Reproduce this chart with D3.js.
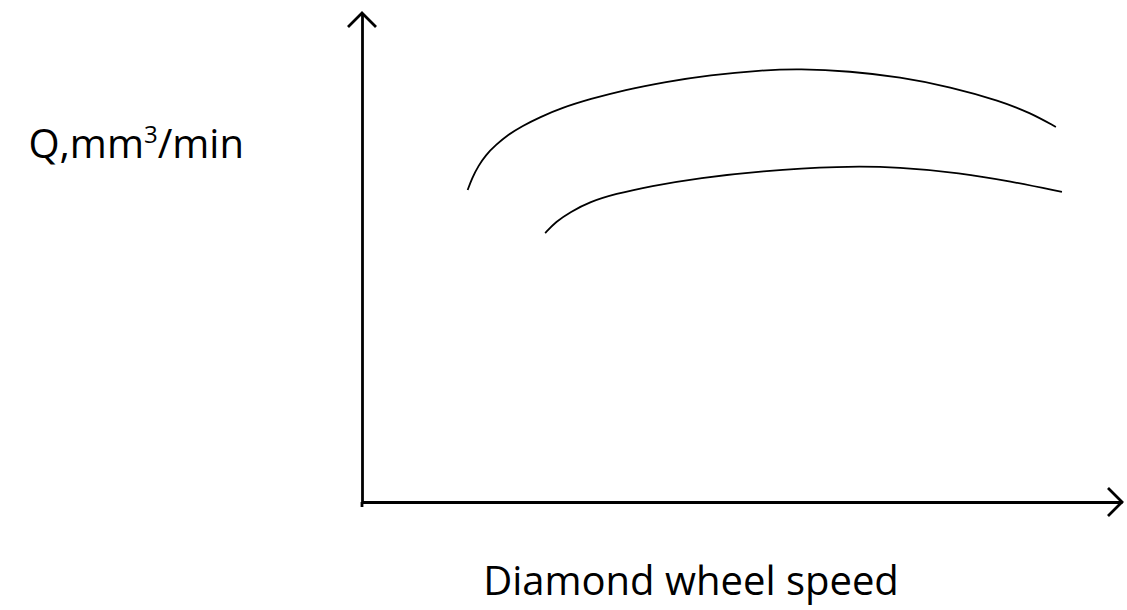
<!DOCTYPE html>
<html><head><meta charset="utf-8">
<script src="https://cdn.jsdelivr.net/npm/d3@7"></script>
<style>body{margin:0;background:#fff}svg{display:block}</style>
</head><body>
<svg id="c" width="1127" height="610"></svg>
<script>
// Data (arbitrary units)
const upperX = [13.9, 14.5, 15.3, 16.3, 17.6, 19.2, 21.1, 23.4, 26.3, 30.0, 34.6, 39.9, 45.8, 52.4, 57.6, 64.2, 70.8, 77.4, 84.0, 87.9, 91.3];
const upperY = [63.8, 66.3, 68.7, 71.0, 73.0, 75.1, 76.9, 78.7, 80.6, 82.4, 84.3, 85.9, 87.3, 88.3, 88.6, 88.1, 86.9, 84.9, 82.0, 79.6, 76.7];
const lowerX = [24.1, 25.5, 27.4, 30.0, 33.3, 37.9, 44.5, 52.4, 62.9, 70.8, 78.7, 85.3, 92.1];
const lowerY = [55.0, 57.3, 59.3, 61.4, 63.0, 64.6, 66.3, 67.7, 68.7, 68.5, 67.3, 65.6, 63.4];
const xLabel = "Diamond wheel speed";
const yLabel = ["Q,mm", "3", "/min"];

const svg = d3.select("#c");
const x = d3.scaleLinear().domain([0, 100]).range([362, 1122]);
const y = d3.scaleLinear().domain([0, 100]).range([502, 13]);

const font = "'Open Sans', 'Noto Sans', sans-serif";
const axisW = 2.8;

// axes (no ticks)
const gx = svg.append("g").attr("transform", `translate(0,${y(0)})`)
  .call(d3.axisBottom(x).ticks(0).tickSize(0).tickSizeOuter(0));
gx.select(".domain").attr("stroke", "#000").attr("stroke-width", axisW);
const gy = svg.append("g").attr("transform", `translate(${x(0)},0)`)
  .call(d3.axisLeft(y).ticks(0).tickSize(0).tickSizeOuter(0));
gy.select(".domain").attr("stroke", "#000").attr("stroke-width", axisW);
// y axis runs a little below the x axis
svg.append("line").attr("x1", x(0)).attr("x2", x(0)).attr("y1", y(0)).attr("y2", y(0) + 5)
  .attr("stroke", "#000").attr("stroke-width", axisW);

// arrowheads
const ah = 14;
svg.append("path")
  .attr("d", `M${x(0) - ah},${y(100) + ah} L${x(0)},${y(100)} L${x(0) + ah},${y(100) + ah}`)
  .attr("fill", "none").attr("stroke", "#000").attr("stroke-width", axisW);
svg.append("path")
  .attr("d", `M${x(100) - ah},${y(0) - ah} L${x(100)},${y(0)} L${x(100) - ah},${y(0) + ah}`)
  .attr("fill", "none").attr("stroke", "#000").attr("stroke-width", axisW);

// curves
const line = d3.line().x(d => x(d[0])).y(d => y(d[1])).curve(d3.curveBasis);
[[upperX, upperY], [lowerX, lowerY]].forEach(([xs, ys]) => {
  svg.append("path").datum(xs.map((v, i) => [v, ys[i]]))
    .attr("d", line).attr("fill", "none").attr("stroke", "#000").attr("stroke-width", 1.8);
});

// labels
const yl = svg.append("text").attr("x", 244).attr("y", 158).attr("text-anchor", "end")
  .attr("font-family", font).attr("font-size", 40).attr("fill", "#000");
yl.append("tspan").text(yLabel[0]);
yl.append("tspan").attr("font-size", 24).attr("dy", -15).text(yLabel[1]);
yl.append("tspan").attr("dy", 15).text(yLabel[2]);

svg.append("text").attr("x", 691).attr("y", 595).attr("text-anchor", "middle")
  .attr("font-family", font).attr("font-size", 40).attr("fill", "#000").text(xLabel);
</script>
</body></html>
